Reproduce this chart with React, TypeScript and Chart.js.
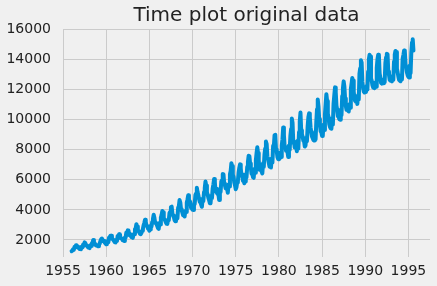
import React, { useEffect, useRef } from "react";
import { Chart, registerables } from "chart.js";

Chart.register(...registerables);

const title = "Time plot original data";
const startYear = 1956;
const xTicks = [1955, 1960, 1965, 1970, 1975, 1980, 1985, 1990, 1995];
const yTicks = [2000, 4000, 6000, 8000, 10000, 12000, 14000, 16000];

// Monthly values, one array per five-year block (Jan 1956 – Aug 1995)
const values1956to1960 = [
  1254, 1290, 1379, 1346, 1535, 1555, 1655, 1651, 1500, 1538, 1486, 1394,
  1409, 1387, 1543, 1502, 1693, 1616, 1841, 1787, 1631, 1649, 1586, 1500,
  1497, 1463, 1648, 1595, 1777, 1824, 1994, 1835, 1787, 1699, 1633, 1645,
  1597, 1577, 1709, 1756, 1936, 2052, 2105, 2016, 1914, 1925, 1824, 1765,
  1721, 1752, 1914, 1857, 2159, 2195, 2287, 2276, 2096, 2055, 2004, 1924,
];
const values1961to1965 = [
  1851, 1839, 2019, 1937, 2270, 2251, 2382, 2364, 2129, 2110, 2072, 1980,
  1995, 1932, 2171, 2162, 2489, 2424, 2641, 2630, 2324, 2412, 2284, 2186,
  2184, 2144, 2379, 2383, 2717, 2774, 3051, 2891, 2613, 2600, 2493, 2410,
  2390, 2463, 2616, 2734, 2970, 3125, 3342, 3207, 2964, 2919, 2764, 2732,
  2622, 2698, 2950, 2895, 3200, 3408, 3679, 3473, 3154, 3107, 3052, 2918,
];
const values1966to1970 = [
  2786, 2739, 3125, 3033, 3486, 3661, 3927, 3851, 3456, 3390, 3280, 3166,
  3080, 3069, 3340, 3310, 3798, 3883, 4191, 4213, 3766, 3628, 3520, 3322,
  3250, 3287, 3552, 3440, 4153, 4265, 4655, 4492, 4051, 3967, 3807, 3639,
  3647, 3560, 3929, 3858, 4485, 4697, 4977, 4675, 4596, 4491, 4127, 4144,
  4014, 3994, 4320, 4400, 5002, 5091, 5471, 5193, 4997, 4737, 4546, 4498,
];
const values1971to1975 = [
  4350, 4206, 4743, 4582, 5191, 5457, 5891, 5618, 5158, 5030, 4800, 4654,
  4453, 4440, 4945, 4788, 5425, 5706, 6061, 5846, 5242, 5408, 5114, 5042,
  5008, 4657, 5359, 5193, 5891, 5980, 6390, 6366, 5756, 5640, 5429, 5398,
  5413, 5141, 5695, 5554, 6369, 6592, 7107, 6917, 6353, 6205, 5830, 5646,
  5379, 5489, 5824, 5907, 6482, 6795, 7028, 6776, 6274, 6362, 5940, 5958,
];
const values1976to1980 = [
  5769, 5887, 6367, 6165, 6868, 7201, 7601, 7581, 7090, 6841, 6408, 6435,
  6176, 6138, 6717, 6470, 7312, 7763, 8171, 7788, 7311, 6679, 6704, 6724,
  6552, 6427, 7105, 6869, 7683, 8082, 8555, 8386, 7553, 7398, 7112, 6886,
  7077, 6820, 7426, 7143, 8261, 8240, 8977, 8991, 8026, 7911, 7510, 7381,
  7366, 7414, 7824, 7524, 8279, 8707, 9486, 8973, 8231, 8206, 7927, 7999,
];
const values1981to1985 = [
  7834, 7521, 8284, 7999, 8940, 9381, 10078, 9796, 8471, 8572, 8150, 8168,
  8166, 7903, 8606, 8071, 9178, 9873, 10476, 9296, 9048, 8863, 8599, 8563,
  8213, 8280, 8794, 8573, 9569, 10169, 10420, 10165, 9502, 9179, 8878, 8768,
  8650, 8620, 9069, 8694, 9842, 10700, 11350, 10900, 10040, 9670, 9224, 9161,
  8924, 8955, 9672, 9313, 10359, 11047, 11700, 11244, 10391, 10183, 9698, 9522,
];
const values1986to1990 = [
  9420, 9400, 10093, 9673, 11068, 11621, 12150, 11843, 10935, 10677, 10232, 10214,
  10036, 10000, 10535, 10305, 11577, 12100, 12550, 12200, 11409, 10916, 10659, 10671,
  10600, 10550, 11019, 10800, 12043, 12400, 12780, 12600, 11857, 11431, 11250, 11200,
  11250, 11050, 11625, 11354, 13075, 13417, 13950, 13800, 12513, 12124, 11868, 11809,
  11880, 11850, 12249, 12000, 13207, 13996, 14320, 14200, 12751, 12596, 12300, 12150,
];
const values1991to1995 = [
  12150, 12100, 12469, 12200, 13439, 14011, 14320, 14250, 13078, 12773, 12450, 12400,
  12450, 12430, 12689, 12500, 13774, 14154, 14390, 14350, 13210, 12977, 12650, 12600,
  12580, 12550, 12908, 12650, 13872, 14321, 14570, 14500, 13389, 13155, 12871, 12650,
  12600, 12560, 12950, 12677, 14059, 14300, 14600, 14550, 13693, 13491, 13132, 12950,
  12850, 12810, 13600, 13090, 14440, 15140, 15350, 14600,
];

const allValues = [
  ...values1956to1960,
  ...values1961to1965,
  ...values1966to1970,
  ...values1971to1975,
  ...values1976to1980,
  ...values1981to1985,
  ...values1986to1990,
  ...values1991to1995,
];

export default function App() {
  const canvasRef = useRef<HTMLCanvasElement | null>(null);

  useEffect(() => {
    document.body.style.margin = "0";
    const canvas = canvasRef.current;
    if (!canvas) return;
    const points = allValues.map((v, i) => ({ x: startYear + i / 12, y: v }));
    const font = "'DejaVu Sans', sans-serif";
    const chart = new Chart(canvas, {
      type: "line",
      data: {
        datasets: [
          {
            data: points,
            borderColor: "#008fd5",
            borderWidth: 4,
            pointRadius: 0,
            tension: 0,
            borderJoinStyle: "round",
            borderCapStyle: "round",
            fill: false,
          },
        ],
      },
      options: {
        animation: false,
        responsive: false,
        parsing: false as any,
        layout: { padding: { left: 0, right: 7, top: 0, bottom: 0 } },
        plugins: {
          legend: { display: false },
          tooltip: { enabled: false },
          title: {
            display: true,
            text: title,
            fullSize: false,
            color: "#222",
            font: { family: font, size: 20, weight: "normal" },
            padding: { top: 4, bottom: 1.5 },
          },
        },
        scales: {
          x: {
            type: "linear",
            min: 1955,
            max: 1997.5,
            afterBuildTicks: (scale: any) => {
              scale.ticks = xTicks.map((v) => ({ value: v }));
            },
            afterFit: (scale: any) => {
              scale.height = 29.3;
            },
            ticks: {
              color: "#222",
              font: { family: font, size: 14 },
              padding: 6,
              maxRotation: 0,
              autoSkip: false,
              callback: (v: any) => String(v),
            },
            grid: { color: "#cbcbcb", lineWidth: 1, drawTicks: false },
            border: { display: false },
          },
          y: {
            type: "linear",
            min: 887,
            max: 16000,
            afterBuildTicks: (scale: any) => {
              scale.ticks = yTicks.map((v) => ({ value: v }));
            },
            afterFit: (scale: any) => {
              scale.width = 63;
            },
            ticks: {
              color: "#222",
              font: { family: font, size: 14 },
              padding: 12,
              autoSkip: false,
              callback: (v: any) => String(v),
            },
            grid: { color: "#cbcbcb", lineWidth: 1, drawTicks: false },
            border: { display: false },
          },
        },
      },
    });
    return () => chart.destroy();
  }, []);

  return (
    <div style={{ position: "fixed", left: 0, top: 0, width: 437, height: 286, background: "#f0f0f0" }}>
      <canvas ref={canvasRef} width={437} height={286} style={{ display: "block" }} />
    </div>
  );
}
